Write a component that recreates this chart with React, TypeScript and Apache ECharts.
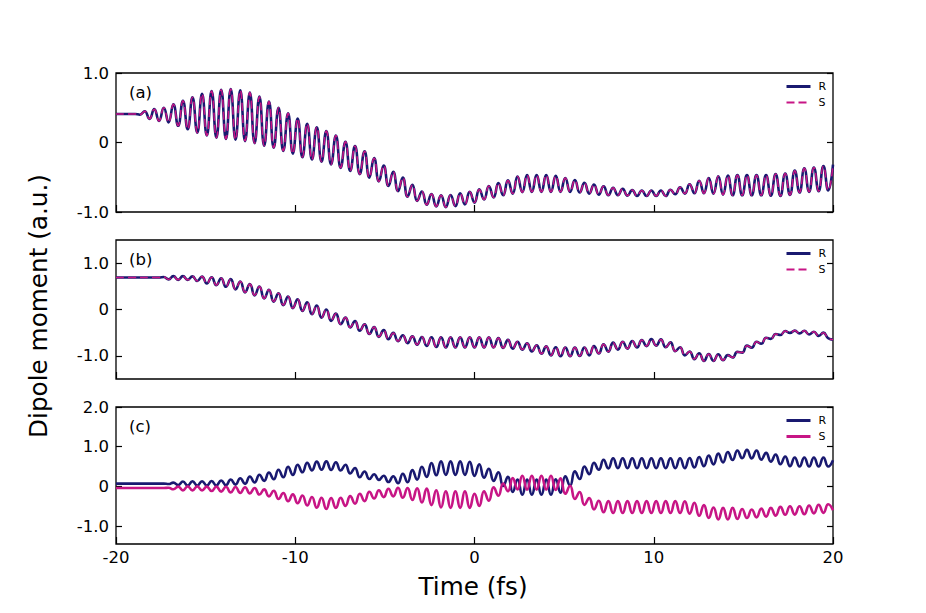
import React, { useEffect, useRef } from "react";
import * as echarts from "echarts";

// ---------- data ----------
const T_MIN = -20;
const T_MAX = 20;
const N_POINTS = 151; // sampled at every extremum of the oscillation
const TIME = Array.from({ length: N_POINTS }, (_, i) => T_MIN + (i * (T_MAX - T_MIN)) / (N_POINTS - 1));

const X_TICKS = [-20, -10, 0, 10, 20];
const Y_TICKS_A = [-1, 0, 1];
const Y_TICKS_B = [-1, 0, 1];
const Y_TICKS_C = [-1, 0, 1, 2];
const Y_RANGE_A = [-1, 1];
const Y_RANGE_B = [-1.5, 1.5];
const Y_RANGE_C = [-1.45, 2];

const PANEL_LABELS = ["(a)", "(b)", "(c)"];
const LEGEND_NAMES = ["R", "S"];

// panel (a)
const A_R = [
  0.41, 0.41, 0.41, 0.41, 0.41,
  0.40, 0.45, 0.34, 0.48, 0.31,
  0.50, 0.29, 0.55, 0.24, 0.60,
  0.19, 0.65, 0.14, 0.70, 0.10,
  0.74, 0.07, 0.76, 0.05, 0.77,
  0.04, 0.75, 0.02, 0.72, -0.01,
  0.66, -0.045, 0.59, -0.075, 0.50,
  -0.12, 0.42, -0.16, 0.345, -0.21,
  0.27, -0.245, 0.22, -0.275, 0.165,
  -0.315, 0.10, -0.365, 0.01, -0.41,
  -0.05, -0.455, -0.125, -0.505, -0.225,
  -0.56, -0.33, -0.625, -0.42, -0.70,
  -0.505, -0.78, -0.61, -0.84, -0.705,
  -0.895, -0.74, -0.92, -0.76, -0.93,
  -0.755, -0.915, -0.73, -0.89, -0.71,
  -0.865, -0.675, -0.82, -0.625, -0.79,
  -0.585, -0.76, -0.545, -0.735, -0.49,
  -0.715, -0.47, -0.71, -0.47, -0.71,
  -0.47, -0.71, -0.48, -0.71, -0.51,
  -0.71, -0.54, -0.72, -0.58, -0.735,
  -0.605, -0.75, -0.63, -0.76, -0.65,
  -0.76, -0.665, -0.765, -0.685, -0.77,
  -0.69, -0.77, -0.69, -0.77, -0.69,
  -0.77, -0.68, -0.745, -0.645, -0.735,
  -0.60, -0.73, -0.55, -0.73, -0.51,
  -0.735, -0.485, -0.75, -0.475, -0.76,
  -0.47, -0.76, -0.47, -0.76, -0.47,
  -0.76, -0.47, -0.765, -0.455, -0.77,
  -0.445, -0.755, -0.405, -0.72, -0.37,
  -0.71, -0.36, -0.70, -0.34, -0.69,
  -0.32,
];
// S coincides with R in panel (a) within the picture's resolution
const A_S = [...A_R];

// panel (b)
const B_R = [
  0.69, 0.69, 0.69, 0.69, 0.69,
  0.69, 0.69, 0.69, 0.69, 0.69,
  0.70, 0.65, 0.72, 0.64, 0.72,
  0.64, 0.715, 0.615, 0.71, 0.56,
  0.695, 0.525, 0.675, 0.49, 0.655,
  0.435, 0.605, 0.37, 0.55, 0.305,
  0.495, 0.24, 0.425, 0.17, 0.35,
  0.095, 0.28, 0.03, 0.22, -0.03,
  0.155, -0.10, 0.085, -0.175, 0.00,
  -0.245, -0.09, -0.315, -0.175, -0.385,
  -0.25, -0.46, -0.32, -0.53, -0.38,
  -0.59, -0.445, -0.64, -0.505, -0.685,
  -0.555, -0.725, -0.58, -0.76, -0.595,
  -0.785, -0.60, -0.81, -0.60, -0.82,
  -0.60, -0.82, -0.60, -0.82, -0.60,
  -0.82, -0.60, -0.82, -0.60, -0.82,
  -0.615, -0.83, -0.655, -0.845, -0.695,
  -0.865, -0.73, -0.905, -0.77, -0.955,
  -0.795, -0.99, -0.815, -1.01, -0.82,
  -1.01, -0.82, -1.005, -0.82, -0.99,
  -0.79, -0.95, -0.75, -0.91, -0.715,
  -0.865, -0.695, -0.845, -0.68, -0.82,
  -0.66, -0.79, -0.64, -0.78, -0.645,
  -0.815, -0.71, -0.90, -0.815, -0.99,
  -0.905, -1.07, -0.945, -1.11, -0.96,
  -1.11, -0.965, -1.095, -0.985, -1.035,
  -0.915, -0.93, -0.78, -0.825, -0.695,
  -0.74, -0.61, -0.635, -0.53, -0.55,
  -0.465, -0.505, -0.455, -0.515, -0.46,
  -0.54, -0.48, -0.57, -0.50, -0.62,
  -0.65,
];
const B_S = [...B_R];

// panel (c)
const C_R = [
  0.07, 0.07, 0.07, 0.07, 0.07,
  0.07, 0.07, 0.07, 0.07, 0.07,
  0.07, 0.06, 0.095, 0.035, 0.125,
  0.02, 0.13, 0.02, 0.13, 0.02,
  0.135, 0.025, 0.15, 0.03, 0.175,
  0.045, 0.205, 0.065, 0.25, 0.10,
  0.295, 0.14, 0.35, 0.18, 0.42,
  0.23, 0.495, 0.29, 0.545, 0.355,
  0.595, 0.405, 0.625, 0.42, 0.63,
  0.415, 0.61, 0.40, 0.545, 0.325,
  0.465, 0.23, 0.375, 0.185, 0.305,
  0.165, 0.27, 0.11, 0.255, 0.08,
  0.32, 0.105, 0.41, 0.17, 0.495,
  0.24, 0.59, 0.28, 0.63, 0.29,
  0.63, 0.29, 0.63, 0.29, 0.62,
  0.265, 0.56, 0.22, 0.445, 0.14,
  0.355, 0.01, 0.24, -0.14, 0.175,
  -0.21, 0.17, -0.21, 0.17, -0.21,
  0.17, -0.21, 0.18, -0.16, 0.255,
  0.02, 0.38, 0.185, 0.50, 0.31,
  0.595, 0.42, 0.67, 0.455, 0.71,
  0.46, 0.71, 0.46, 0.71, 0.46,
  0.71, 0.46, 0.71, 0.46, 0.71,
  0.46, 0.71, 0.46, 0.71, 0.46,
  0.715, 0.475, 0.74, 0.51, 0.78,
  0.555, 0.825, 0.605, 0.865, 0.665,
  0.905, 0.71, 0.92, 0.705, 0.905,
  0.675, 0.845, 0.625, 0.805, 0.56,
  0.755, 0.51, 0.73, 0.50, 0.73,
  0.50, 0.73, 0.50, 0.73, 0.50,
  0.66,
];
const C_S = [
  -0.04, -0.04, -0.04, -0.04, -0.04,
  -0.04, -0.04, -0.04, -0.04, -0.04,
  -0.04, -0.035, -0.07, -0.005, -0.10,
  0.00, -0.10, 0.00, -0.10, -0.005,
  -0.115, -0.005, -0.13, -0.01, -0.15,
  -0.015, -0.165, -0.02, -0.175, -0.04,
  -0.205, -0.075, -0.25, -0.11, -0.315,
  -0.165, -0.375, -0.20, -0.425, -0.23,
  -0.48, -0.265, -0.535, -0.285, -0.57,
  -0.29, -0.54, -0.285, -0.49, -0.245,
  -0.435, -0.185, -0.37, -0.135, -0.305,
  -0.095, -0.27, -0.06, -0.25, -0.035,
  -0.285, -0.04, -0.34, -0.045, -0.405,
  -0.055, -0.47, -0.095, -0.53, -0.12,
  -0.54, -0.12, -0.54, -0.12, -0.54,
  -0.185, -0.49, -0.12, -0.36, -0.025,
  -0.235, 0.075, -0.12, 0.21, -0.075,
  0.27, -0.08, 0.27, -0.08, 0.27,
  -0.08, 0.27, -0.09, 0.205, -0.185,
  0.015, -0.315, -0.14, -0.465, -0.295,
  -0.58, -0.36, -0.65, -0.37, -0.67,
  -0.37, -0.67, -0.37, -0.67, -0.37,
  -0.67, -0.37, -0.67, -0.37, -0.67,
  -0.37, -0.67, -0.37, -0.67, -0.375,
  -0.685, -0.41, -0.74, -0.47, -0.795,
  -0.53, -0.83, -0.54, -0.83, -0.54,
  -0.82, -0.57, -0.795, -0.58, -0.78,
  -0.56, -0.76, -0.54, -0.735, -0.515,
  -0.715, -0.50, -0.71, -0.50, -0.70,
  -0.48, -0.68, -0.46, -0.665, -0.45,
  -0.60,
];

// ---------- styling ----------
const NAVY = "#191970";
const MAGENTA = "#c71585";
const FONT = "DejaVu Sans";
const W = 926;
const H = 613;
const PLOT_LEFT = 116;
const PLOT_WIDTH = 717;
const GRID_BOXES = [
  { top: 73, height: 139 },
  { top: 240, height: 139 },
  { top: 407, height: 137 },
];
const DASH = [8, 4];

const pairs = (vals: number[]) => vals.map((v, i) => [TIME[i], v]);
const fmtY = (v: number) => (Math.abs(v) < 1e-9 ? "0" : v.toFixed(1));

export default function App() {
  const ref = useRef<HTMLDivElement>(null);

  useEffect(() => {
    if (!ref.current) return;
    const chart = echarts.init(ref.current, null, { renderer: "svg" });

    const yRanges = [Y_RANGE_A, Y_RANGE_B, Y_RANGE_C];
    const yTicks = [Y_TICKS_A, Y_TICKS_B, Y_TICKS_C];
    const panelData = [
      [A_R, A_S],
      [B_R, B_S],
      [C_R, C_S],
    ];
    const keys = ["a", "b", "c"];

    const grid = GRID_BOXES.map((g) => ({
      left: PLOT_LEFT,
      width: PLOT_WIDTH,
      top: g.top,
      height: g.height,
      show: true,
      borderColor: "#000",
      borderWidth: 1.3,
      backgroundColor: "#fff",
      outerBoundsMode: "none",
    }));

    const xAxis = GRID_BOXES.map((_, k) => ({
      type: "value",
      gridIndex: k,
      position: "bottom",
      min: T_MIN,
      max: T_MAX,
      interval: 10,
      axisLine: { show: false, onZero: false },
      axisTick: {
        show: true,
        inside: true,
        length: 7,
        lineStyle: { color: "#000", width: 1.2 },
        customValues: X_TICKS,
      },
      axisLabel: {
        show: k === 2,
        color: "#000",
        fontSize: 16.5,
        fontFamily: FONT,
        margin: 5,
        customValues: X_TICKS,
      },
      splitLine: { show: false },
    }));

    const yAxis: any[] = [];
    GRID_BOXES.forEach((_, k) => {
      const base = {
        type: "value",
        gridIndex: k,
        min: yRanges[k][0],
        max: yRanges[k][1],
        axisLine: { show: false, onZero: false },
        splitLine: { show: false },
        axisTick: {
          show: true,
          inside: true,
          length: 6,
          lineStyle: { color: "#000", width: 1.2 },
          customValues: yTicks[k],
        },
      };
      yAxis.push({
        ...base,
        position: "left",
        axisLabel: {
          show: true,
          color: "#000",
          fontSize: 16.5,
          fontFamily: FONT,
          margin: 7,
          formatter: fmtY,
          customValues: yTicks[k],
        },
      });
      yAxis.push({
        ...base,
        position: "right",
        axisLabel: { show: false },
      });
    });

    const series: any[] = [];
    panelData.forEach(([r, s], k) => {
      series.push({
        name: keys[k] + "R",
        type: "line",
        xAxisIndex: k,
        yAxisIndex: 2 * k,
        data: pairs(r),
        smooth: true,
        symbol: "none",
        lineStyle: { color: NAVY, width: 2.6 },
        itemStyle: { color: NAVY },
        z: 2,
      });
      series.push({
        name: keys[k] + "S",
        type: "line",
        xAxisIndex: k,
        yAxisIndex: 2 * k,
        data: pairs(s),
        smooth: true,
        symbol: "none",
        lineStyle:
          k === 2
            ? { color: MAGENTA, width: 2.6 }
            : { color: MAGENTA, width: 1.5, type: DASH },
        itemStyle: { color: MAGENTA },
        z: 3,
      });
    });

    const legend = GRID_BOXES.map((g, k) => ({
      data: LEGEND_NAMES.map((n) => ({
        name: keys[k] + n,
        lineStyle: { width: n === "R" || k === 2 ? 3 : 2 },
      })),
      formatter: (name: string) => name.slice(1),
      orient: "vertical",
      left: 785,
      top: g.top + 8,
      padding: 0,
      itemWidth: 24,
      itemHeight: 10,
      itemGap: 5,
      selectedMode: false,
      itemStyle: { opacity: 0 },
      textStyle: { color: "#000", fontSize: 11, fontFamily: FONT, padding: [0, 0, 0, 3] },
    }));

    const graphic: any[] = GRID_BOXES.map((g, k) => ({
      type: "text",
      left: 129,
      top: g.top + 11,
      style: { text: PANEL_LABELS[k], fontSize: 16.5, fontFamily: FONT, fill: "#000" },
    }));
    graphic.push({
      type: "text",
      x: 38,
      y: 306,
      rotation: Math.PI / 2,
      style: {
        text: "Dipole moment (a.u.)",
        fontSize: 24.7,
        fontFamily: FONT,
        fill: "#000",
        align: "center",
        verticalAlign: "middle",
      },
    });
    graphic.push({
      type: "text",
      x: 473,
      y: 586,
      style: {
        text: "Time (fs)",
        fontSize: 24.7,
        fontFamily: FONT,
        fill: "#000",
        align: "center",
        verticalAlign: "middle",
      },
    });

    chart.setOption({
      animation: false,
      backgroundColor: "#fff",
      grid,
      xAxis,
      yAxis,
      series,
      legend,
      graphic,
    });

    return () => chart.dispose();
  }, []);

  return (
    <div
      ref={ref}
      style={{ position: "fixed", left: 0, top: 0, width: W, height: H, background: "#fff" }}
    />
  );
}
